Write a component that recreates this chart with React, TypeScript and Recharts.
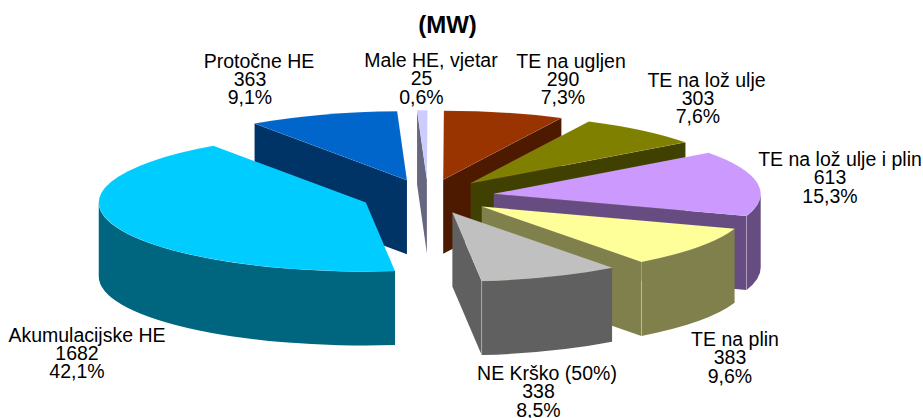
import { PieChart, Pie } from "recharts";

// clockwise order, first one drawn is at the back so the overlaps come out right
const NAMES = [
  "Protočne HE",
  "Male HE, vjetar",
  "TE na ugljen",
  "TE na lož ulje",
  "TE na lož ulje i plin",
  "TE na plin",
  "NE Krško (50%)",
  "Akumulacijske HE",
];
const VALUES = [363, 25, 290, 303, 613, 383, 338, 1682];
const PERCENTS = ["9,1%", "0,6%", "7,3%", "7,6%", "15,3%", "9,6%", "8,5%", "42,1%"];

const TOP_COLORS = ["#0066CC", "#CCCCFF", "#993300", "#808000", "#CC99FF", "#FFFF99", "#C0C0C0", "#00CCFF"];
const WALL_COLORS = ["#003366", "#666680", "#4D1A00", "#404000", "#664C80", "#80804D", "#606060", "#006680"];

// label name centre x, centre x of the number lines (they sit left of the name), first baseline y
const LABEL_X = [259, 431, 571, 706.5, 840, 735, 547, 87];
const NUMBER_X = [250, 421.5, 563, 698, 830, 730, 538.5, 77];
const LABEL_Y = [67.7, 67, 67.7, 86.7, 166, 346, 380, 341.7];

const data = NAMES.map((name, i) => ({ name, value: VALUES[i] }));

const CX = 428;
const CY = 196.5;
const RX = 267;
const RY = 69;
const DEPTH = 74;
const EXPLODE = 0.249;
const FONT = "Liberation Sans, Arial, sans-serif";

const Slice3D = (props: any) => {
  const { cx, cy, outerRadius, startAngle, endAngle, midAngle, index } = props;
  const squash = RY / RX;
  const rad = (d: number) => (d * Math.PI) / 180;
  const ox = cx + outerRadius * EXPLODE * Math.cos(rad(midAngle));
  const oy = cy - outerRadius * EXPLODE * squash * Math.sin(rad(midAngle));

  // degrees clockwise from the top
  let a1 = 90 - startAngle;
  a1 = ((a1 % 360) + 360) % 360;
  if (a1 > 359.5) a1 -= 360; // slice that starts right at the top
  const a2 = a1 + Math.abs(endAngle - startAngle);
  const a2Norm = a2 % 360;

  const pt = (a: number, dy = 0) => {
    const x = ox + outerRadius * Math.sin(rad(a));
    const y = oy - outerRadius * squash * Math.cos(rad(a)) + dy;
    return `${x.toFixed(2)} ${y.toFixed(2)}`;
  };
  const arc = (sweep: number, to: number, dy = 0) =>
    `A ${outerRadius} ${outerRadius * squash} 0 0 ${sweep} ${pt(to, dy)}`;

  const top = `M ${ox} ${oy} L ${pt(a1)} ${arc(1, a2)} Z`;
  const wallColor = WALL_COLORS[index];
  const apexDown = `${ox} ${oy + DEPTH}`;

  const vis1 = Math.max(a1, 90);
  const vis2 = Math.min(a2, 270);
  const showEnd = a2 < 180;

  return (
    <g>
      {a1 > 180 && (
        <path d={`M ${ox} ${oy} L ${pt(a1)} L ${pt(a1, DEPTH)} L ${apexDown} Z`} fill={wallColor} />
      )}
      {showEnd && (
        <path d={`M ${ox} ${oy} L ${pt(a2)} L ${pt(a2, DEPTH)} L ${apexDown} Z`} fill={wallColor} />
      )}
      {vis1 < vis2 && (
        <path
          d={`M ${pt(vis1)} ${arc(1, vis2)} L ${pt(vis2, DEPTH)} ${arc(0, vis1, DEPTH)} Z`}
          fill={wallColor}
        />
      )}
      {showEnd && a2Norm > 90 && (
        <path d={`M ${pt(a2)} L ${pt(a2, DEPTH)}`} stroke="#ffffff" strokeOpacity={0.3} fill="none" />
      )}
      <path d={top} fill={TOP_COLORS[index]} stroke="#ffffff" strokeOpacity={0.15} strokeWidth={0.5} />
    </g>
  );
};

const SliceLabel = (props: any) => {
  const { index } = props;
  const x = LABEL_X[index];
  const nx = NUMBER_X[index];
  const y = LABEL_Y[index];
  return (
    <text x={x} y={y} textAnchor="middle" fontFamily={FONT} fontSize={19.5} fill="#000000">
      <tspan x={x}>{NAMES[index]}</tspan>
      <tspan x={nx} dy={18.3}>{VALUES[index]}</tspan>
      <tspan x={nx} dy={18.3}>{PERCENTS[index]}</tspan>
    </text>
  );
};

export default function App() {
  return (
    <div style={{ position: "absolute", left: 0, top: 0, width: 923, height: 418, background: "#fff" }}>
      <PieChart width={923} height={418} margin={{ top: 0, right: 0, bottom: 0, left: 0 }}>
        <text x={447.5} y={33} textAnchor="middle" fontFamily={FONT} fontSize={24} fontWeight="bold" fill="#000000">
          (MW)
        </text>
        <Pie
          data={data}
          dataKey="value"
          nameKey="name"
          cx={CX}
          cy={CY}
          innerRadius={0}
          outerRadius={RX}
          startAngle={124.8}
          endAngle={-235.2}
          stroke="none"
          shape={Slice3D}
          label={SliceLabel}
          labelLine={false}
          isAnimationActive={false}
        />
      </PieChart>
    </div>
  );
}
